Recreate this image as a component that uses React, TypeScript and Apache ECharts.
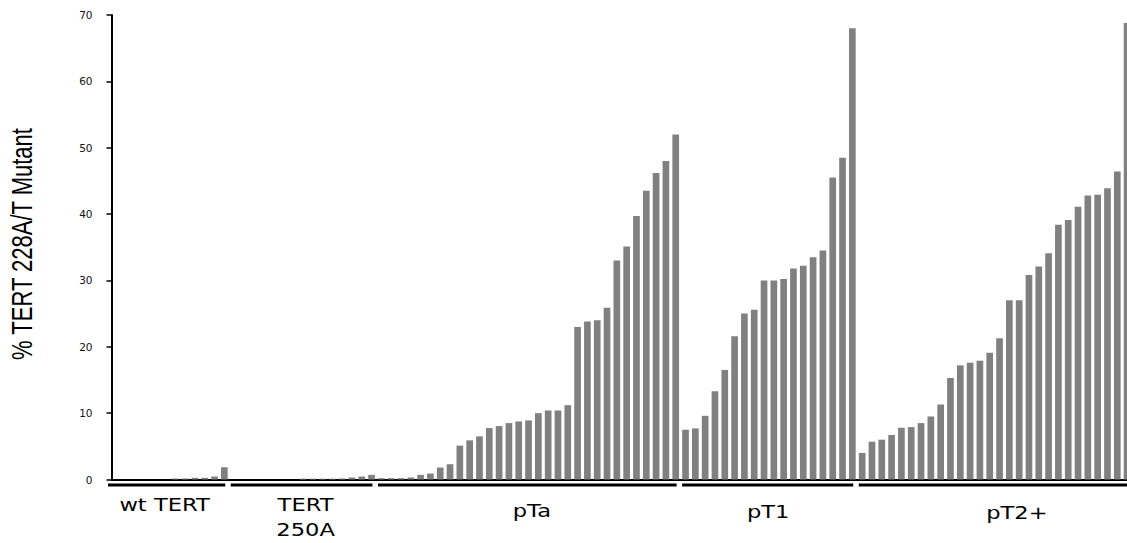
import React, { useEffect, useRef } from "react";
import * as echarts from "echarts";

// ---- data ----
const GROUP_NAMES = ["wt TERT", "TERT\n250A", "pTa", "pT1", "pT2+"];
const WT_TERT = [0, 0, 0, 0, 0, 0, 0.15, 0.15, 0.25, 0.25, 0.45, 1.85];
const TERT_250A = [0, 0, 0, 0, 0, 0, 0, 0.12, 0.12, 0.12, 0.12, 0.15, 0.3, 0.45, 0.7];
const PTA = [
  0.2, 0.2, 0.2, 0.3, 0.7, 0.9, 1.8, 2.3, 5.1, 5.9,
  6.5, 7.75, 8.05, 8.5, 8.75, 8.9, 10.0, 10.4, 10.4, 11.2,
  23.0, 23.8, 24.0, 25.9, 33.0, 35.1, 39.7, 43.5, 46.2, 48.0,
  52.0,
];
const PT1 = [7.5, 7.7, 9.6, 13.3, 16.5, 21.6, 25.0, 25.6, 30.0, 30.0, 30.2, 31.8, 32.2, 33.5, 34.5, 45.5, 48.5, 68.0];
const PT2 = [
  4.0, 5.7, 6.0, 6.7, 7.8, 7.9, 8.5, 9.5, 11.3, 15.3,
  17.2, 17.6, 17.9, 19.1, 21.3, 27.0, 27.0, 30.8, 32.1, 34.1,
  38.4, 39.1, 41.1, 42.8, 42.9, 43.9, 46.4, 68.8,
];
const GROUP_VALUES = [WT_TERT, TERT_250A, PTA, PT1, PT2];
const Y_TICKS = [0, 10, 20, 30, 40, 50, 60, 70];
const Y_TITLE = "% TERT 228A/T Mutant";

// ---- layout (not data) ----
const LABEL_DX = [-4.5, 4, 4.6, 0.5, 23.5];
const LABEL_DY = [25.5, 38, 31.5, 32.5, 33.5];
const START_PAD = [-3.5, 1.5, 1.5, 1.5, 1.5];

export default function App() {
  const ref = useRef<HTMLDivElement>(null);
  useEffect(() => {
    if (!ref.current) return;
    const chart = echarts.init(ref.current, undefined, { renderer: "svg" });

    const values: number[] = [];
    const cats: string[] = [];
    const ranges: number[][] = [];
    GROUP_VALUES.forEach((arr, g) => {
      const start = values.length;
      arr.forEach((v, i) => {
        values.push(v);
        cats.push(GROUP_NAMES[g].replace("\n", " ") + " #" + (i + 1));
      });
      ranges.push([start, values.length - 1]);
    });

    const renderItem = (params: any, api: any) => {
      const g = params.dataIndex;
      const s = api.coord([api.value(0), 0]);
      const e = api.coord([api.value(1), 0]);
      const bw = api.size([1, 0])[0];
      const x0 = s[0] - bw / 2 + START_PAD[g];
      const x1 = e[0] + bw / 2 - 4;
      const y = s[1];
      const cx = (s[0] - bw / 2 + 1.5 + x1) / 2;
      return {
        type: "group",
        children: [
          {
            type: "rect",
            shape: { x: x0, y: y + 4, width: x1 - x0, height: 3 },
            style: { fill: "#000" },
          },
          {
            type: "text",
            x: cx + LABEL_DX[g],
            y: y + LABEL_DY[g],
            scaleX: 1.33,
            style: {
              text: GROUP_NAMES[g],
              font: '17px "DejaVu Sans"',
              fill: "#000",
              align: "center",
              verticalAlign: "middle",
              lineHeight: 25,
            },
          },
        ],
      };
    };

    chart.setOption({
      animation: false,
      grid: { left: 111.5, right: 0, top: 15, bottom: 63.5, containLabel: false },
      xAxis: {
        type: "category",
        data: cats,
        boundaryGap: true,
        axisLine: { show: true, lineStyle: { color: "#000", width: 2 } },
        axisTick: { show: false },
        axisLabel: { show: false },
        splitLine: { show: false },
      },
      yAxis: {
        type: "value",
        min: Y_TICKS[0],
        max: Y_TICKS[Y_TICKS.length - 1],
        interval: 10,
        axisLine: { show: true, lineStyle: { color: "#000", width: 2 } },
        axisTick: { show: true, length: 5, lineStyle: { color: "#000", width: 1.5 } },
        axisLabel: { margin: 19, fontFamily: "DejaVu Sans", fontSize: 10.5, color: "#111" },
        splitLine: { show: false },
      },
      series: [
        {
          type: "bar",
          data: values,
          barCategoryGap: "32%",
          itemStyle: { color: "#808080" },
        },
        {
          type: "custom",
          renderItem,
          data: ranges,
          encode: { x: [0, 1] },
          clip: false,
          z: 3,
        },
      ],
      graphic: [
        {
          type: "text",
          x: 22,
          y: 244,
          rotation: Math.PI / 2,
          scaleY: 1.3,
          style: {
            text: Y_TITLE,
            font: '22px "Liberation Sans"',
            fill: "#000",
            align: "center",
            verticalAlign: "middle",
          },
        },
      ],
    });
    return () => chart.dispose();
  }, []);
  return (
    <div
      ref={ref}
      style={{ position: "fixed", left: 0, top: 0, width: 1132, height: 543, background: "#fff" }}
    />
  );
}
